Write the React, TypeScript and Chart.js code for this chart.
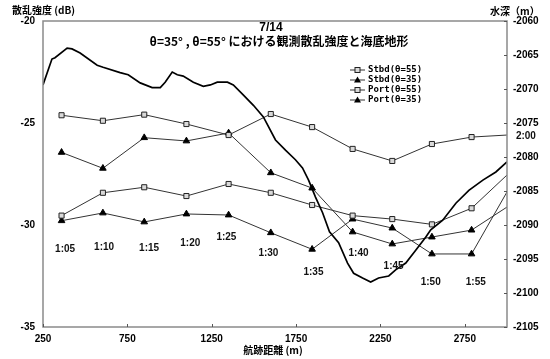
import React, { useEffect, useRef } from "react";
import { Chart, registerables } from "chart.js";

Chart.register(...registerables);

// ---- data ----
const pointX = [360, 605, 850, 1100, 1350, 1600, 1845, 2085, 2320, 2555, 2790, 3000];
const stbd55 = [-24.62, -24.89, -24.59, -25.05, -25.59, -24.56, -25.2, -26.27, -26.86, -26.03, -25.69, -25.59];
const stbd35 = [-26.44, -27.22, -25.72, -25.88, -25.49, -27.44, -28.19, -30.34, -30.93, -30.59, -30.25, -29.12];
const port55 = [-29.54, -28.42, -28.15, -28.58, -27.99, -28.42, -29.02, -29.54, -29.71, -29.97, -29.18, -27.55];
const port35 = [-29.79, -29.41, -29.85, -29.46, -29.51, -30.38, -31.19, -29.71, -30.15, -31.42, -31.42, -28.38];

const depthX = [250, 303, 321, 393, 422, 470, 571, 606, 707, 755, 826, 897, 945, 974, 1016, 1046, 1081, 1141, 1200, 1242, 1283, 1343, 1378, 1438, 1497, 1556, 1628, 1687, 1746, 1788, 1824, 1865, 1907, 1948, 2002, 2055, 2091, 2144, 2192, 2239, 2299, 2340, 2400, 2459, 2518, 2548, 2619, 2697, 2774, 2857, 2934, 3000];
const depthY = [-2069.4, -2065.6, -2065.4, -2064.0, -2064.1, -2064.7, -2066.5, -2066.8, -2067.6, -2067.9, -2069.1, -2069.8, -2069.8, -2069.0, -2067.5, -2067.9, -2068.1, -2069.0, -2069.6, -2069.4, -2069.0, -2069.0, -2069.4, -2070.9, -2072.4, -2074.1, -2077.5, -2079.0, -2080.4, -2081.6, -2083.4, -2085.9, -2088.2, -2091.0, -2092.6, -2095.6, -2097.1, -2097.8, -2098.4, -2097.8, -2097.5, -2096.6, -2095.6, -2093.7, -2091.8, -2090.7, -2089.3, -2086.8, -2084.9, -2083.4, -2082.2, -2080.7];

const timeLabels = ["1:05", "1:10", "1:15", "1:20", "1:25", "1:30", "1:35", "1:40", "1:45", "1:50", "1:55", "2:00"];
const timeLabelX = [381, 612, 879, 1123, 1337, 1586, 1853, 2120, 2328, 2548, 2815, 3112];
const timeLabelY = [-31.18, -31.08, -31.13, -30.88, -30.59, -31.37, -32.3, -31.37, -32.01, -32.79, -32.79, -25.64];

const xTicks = [250, 750, 1250, 1750, 2250, 2750];
const legendNames = ["Stbd(θ=55)", "Stbd(θ=35)", "Port(θ=55)", "Port(θ=35)"];

const titleDate = "7/14";
const titleText = "θ=35° , θ=55° における観測散乱強度と海底地形";
const leftTitle = "散乱強度 (dB)";
const rightTitle = "水深（m）";
const xTitle = "航跡距離 (m)";

const FONT = "'Liberation Sans', Arial, sans-serif";
const JFONT = "'Noto Sans CJK JP', sans-serif";
const MONO = "'DejaVu Sans Mono', monospace";

const toXY = (ys: number[]) => ys.map((y, i) => ({ x: pointX[i], y }));
const plain = (v: any) => String(v);

export default function App() {
  const ref = useRef<HTMLCanvasElement | null>(null);

  useEffect(() => {
    document.body.style.margin = "0";
    const canvas = ref.current;
    if (!canvas) return;
    const last = pointX.length - 1;
    const radius = (r: number) => (ctx: any) => (ctx.dataIndex === last ? 0 : r);

    const squareStyle = {
      pointStyle: "rect" as const,
      pointBackgroundColor: "#d9d9d9",
      pointBorderColor: "#222",
      pointBorderWidth: 1,
      pointRadius: radius(3.6),
    };
    const triStyle = {
      pointStyle: "triangle" as const,
      pointBackgroundColor: "#000",
      pointBorderColor: "#000",
      pointBorderWidth: 1,
      pointRadius: radius(3.8),
    };

    const overlay = {
      id: "overlay",
      afterDraw(chart: any) {
        const { ctx, chartArea } = chart;
        const xs = chart.scales.x;
        const yl = chart.scales.y;
        const { left, right, top, bottom } = chartArea;
        ctx.save();
        // frame
        ctx.strokeStyle = "#8a8a8a";
        ctx.lineWidth = 1.5;
        ctx.strokeRect(left, top, right - left, bottom - top);
        // inner ticks
        ctx.strokeStyle = "#555";
        ctx.lineWidth = 1;
        xTicks.forEach((v) => {
          const px = Math.round(xs.getPixelForValue(v)) + 0.5;
          ctx.beginPath();
          ctx.moveTo(px, bottom);
          ctx.lineTo(px, bottom - 3);
          ctx.stroke();
        });
        chart.scales.y1.ticks.forEach((t: any) => {
          const py = Math.round(chart.scales.y1.getPixelForValue(t.value)) + 0.5;
          ctx.beginPath();
          ctx.moveTo(right, py);
          ctx.lineTo(right - 3, py);
          ctx.stroke();
        });
        // titles
        ctx.fillStyle = "#000";
        ctx.textBaseline = "middle";
        ctx.textAlign = "center";
        ctx.font = `bold 12px ${FONT}`;
        ctx.fillText(titleDate, 271, 28);
        ctx.font = `bold 12px ${JFONT}`;
        ctx.fillText(titleText, 279, 41);
        ctx.font = `bold 10px ${JFONT}`;
        ctx.textAlign = "left";
        ctx.fillText(leftTitle, 12, 10);
        ctx.fillText(rightTitle, 490, 11);
        ctx.textAlign = "center";
        ctx.fillText(xTitle, 273, 350);
        // legend
        const rows = [70, 80, 90, 100];
        legendNames.forEach((name, i) => {
          const y = rows[i];
          ctx.strokeStyle = "#333";
          ctx.lineWidth = 1;
          ctx.beginPath();
          ctx.moveTo(350, y);
          ctx.lineTo(365, y);
          ctx.stroke();
          if (i % 2 === 0) {
            ctx.fillStyle = "#d9d9d9";
            ctx.fillRect(355, y - 2.5, 5, 5);
            ctx.strokeStyle = "#222";
            ctx.strokeRect(355, y - 2.5, 5, 5);
          } else {
            ctx.fillStyle = "#000";
            ctx.beginPath();
            ctx.moveTo(357.5, y - 3.5);
            ctx.lineTo(361, y + 2.5);
            ctx.lineTo(354, y + 2.5);
            ctx.closePath();
            ctx.fill();
          }
          ctx.fillStyle = "#000";
          ctx.font = `bold 9px ${MONO}`;
          ctx.textAlign = "left";
          ctx.fillText(name, 368, y);
        });
        // time labels
        ctx.font = `bold 10px ${FONT}`;
        ctx.textAlign = "center";
        ctx.fillStyle = "#111";
        timeLabels.forEach((t, i) => {
          ctx.fillText(t, xs.getPixelForValue(timeLabelX[i]), yl.getPixelForValue(timeLabelY[i]));
        });
        ctx.restore();
      },
    };

    const tickFont = { family: FONT, size: 10, weight: "bold" as const };

    const chart = new Chart(canvas, {
      type: "line",
      data: {
        datasets: [
          {
            label: "depth",
            data: depthX.map((x, i) => ({ x, y: depthY[i] })),
            yAxisID: "y1",
            borderColor: "#000",
            borderWidth: 1.7,
            pointRadius: 0,
            tension: 0,
          },
          { label: legendNames[0], data: toXY(stbd55), yAxisID: "y", borderColor: "#333", borderWidth: 1, ...squareStyle },
          { label: legendNames[1], data: toXY(stbd35), yAxisID: "y", borderColor: "#333", borderWidth: 1, ...triStyle },
          { label: legendNames[2], data: toXY(port55), yAxisID: "y", borderColor: "#333", borderWidth: 1, ...squareStyle },
          { label: legendNames[3], data: toXY(port35), yAxisID: "y", borderColor: "#333", borderWidth: 1, ...triStyle },
        ],
      },
      options: {
        responsive: false,
        animation: false,
        layout: { padding: { top: 21, left: 0, right: 0, bottom: 0 } },
        plugins: { legend: { display: false }, tooltip: { enabled: false } },
        scales: {
          x: {
            type: "linear",
            min: 250,
            max: 3000,
            grid: { display: false, drawTicks: false },
            border: { display: false },
            ticks: { font: tickFont, color: "#000", padding: 6, maxRotation: 0, callback: plain },
            afterBuildTicks: (s: any) => {
              s.ticks = xTicks.map((v) => ({ value: v }));
            },
            afterFit: (s: any) => {
              s.height = 32;
            },
          },
          y: {
            type: "linear",
            position: "left",
            min: -35,
            max: -20,
            grid: { display: false, drawTicks: false },
            border: { display: false },
            ticks: { stepSize: 5, font: tickFont, color: "#000", padding: 8, callback: plain },
            afterFit: (s: any) => {
              s.width = 43;
            },
          },
          y1: {
            type: "linear",
            position: "right",
            min: -2105,
            max: -2060,
            grid: { display: false, drawTicks: false },
            border: { display: false },
            ticks: { stepSize: 5, font: tickFont, color: "#000", padding: 6, callback: plain },
            afterFit: (s: any) => {
              s.width = 43;
            },
          },
        },
      },
      plugins: [overlay],
    });
    return () => chart.destroy();
  }, []);

  return (
    <div style={{ position: "absolute", left: 0, top: 0, width: 550, height: 359, background: "#fff" }}>
      <canvas ref={ref} width={550} height={359} style={{ width: 550, height: 359, display: "block" }} />
    </div>
  );
}
